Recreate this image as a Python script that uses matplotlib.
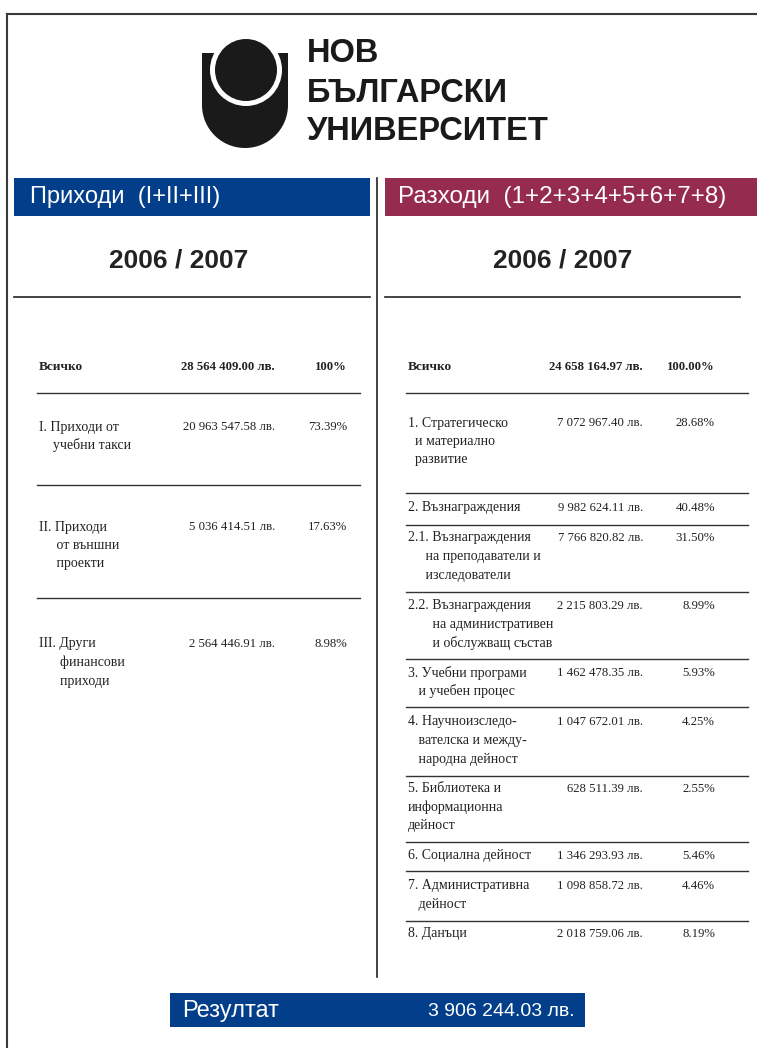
import matplotlib
matplotlib.use("Agg")
import matplotlib.pyplot as plt
from matplotlib.patches import Rectangle, Circle, Polygon
import numpy as np

# ---- data ----
income_title = "Приходи  (I+II+III)"
expense_title = "Разходи  (1+2+3+4+5+6+7+8)"
period = "2006 / 2007"

income_labels = [
    "I. Приходи от\n    учебни такси",
    "II. Приходи\n     от външни\n     проекти",
    "III. Други\n      финансови\n      приходи",
]
income_amounts = [20963547.58, 5036414.51, 2564446.91]
income_shares = [73.39, 17.63, 8.98]
income_total = 28564409.00
income_total_share = "100%"

expense_labels = [
    "1. Стратегическо\n  и материално\n  развитие",
    "2. Възнаграждения",
    "2.1. Възнаграждения\n     на преподаватели и\n     изследователи",
    "2.2. Възнаграждения\n       на административен\n       и обслужващ състав",
    "3. Учебни програми\n   и учебен процес",
    "4. Научноизследо-\n   вателска и между-\n   народна дейност",
    "5. Библиотека и\nинформационна\nдейност",
    "6. Социална дейност",
    "7. Административна\n   дейност",
    "8. Данъци",
]
expense_amounts = [7072967.40, 9982624.11, 7766820.82, 2215803.29, 1462478.35,
                   1047672.01, 628511.39, 1346293.93, 1098858.72, 2018759.06]
expense_shares = [28.68, 40.48, 31.50, 8.99, 5.93, 4.25, 2.55, 5.46, 4.46, 8.19]
expense_total = 24658164.97
expense_total_share = "100.00%"

result_label = "Резултат"
result_value = 3906244.03

# ---- layout (pixels, y down) ----
left_rules = [393, 485, 598]
left_rows = [427, 527, 644]
right_rules = [393, 493, 525, 592, 659, 707, 776, 842, 871, 921]
right_rows = [423, 508, 538, 606, 673, 722, 789, 856, 886, 934]

blue = '#023E8A'
maroon = '#962B50'
ink = '#222222'
serif = 'Liberation Serif'
sans = 'Liberation Sans'


def money(v):
    return f"{v:,.2f}".replace(",", " ") + " лв."


fig = plt.figure(figsize=(7.57, 10.48), dpi=100)
ax = fig.add_axes([0, 0, 1, 1])
ax.set_xlim(0, 757)
ax.set_ylim(1048, 0)
ax.axis('off')

# page frame
ax.plot([7, 757], [14, 14], color='#3a3a3a', lw=1.5)
ax.plot([7, 7], [14, 1048], color='#3a3a3a', lw=1.5)
ax.plot([377, 377], [178, 977], color=ink, lw=1.2)

# ---- logo ----
t = np.linspace(np.pi, 2 * np.pi, 60)
u_pts = [(202, 53), (202, 105)] + [(245 + 43 * np.cos(a), 105 - 43 * np.sin(a)) for a in t] + [(288, 105), (288, 53)]
ax.add_patch(Polygon(u_pts, closed=True, facecolor='#1a1a1a', edgecolor='none'))
ax.add_patch(Circle((246, 70), 36, facecolor='white', edgecolor='none'))
ax.add_patch(Circle((246, 70), 31, facecolor='#1a1a1a', edgecolor='none'))
for i, word in enumerate(["НОВ", "БЪЛГАРСКИ", "УНИВЕРСИТЕТ"]):
    ax.text(307, 54 + i * 39, word, family=sans, fontweight='bold', fontsize=23.5,
            color='#1a1a1a', ha='left', va='center')

# ---- headers ----
ax.add_patch(Rectangle((14, 178), 356, 38, facecolor=blue, edgecolor='none'))
ax.add_patch(Rectangle((385, 178), 372, 38, facecolor=maroon, edgecolor='none'))
ax.text(30, 197, income_title, family=sans, fontsize=17, color='white', ha='left', va='center')
ax.text(398, 197, expense_title, family=sans, fontsize=17.5, color='white', ha='left', va='center')
ax.text(179, 261, period, family=sans, fontsize=19, fontweight='bold', color=ink, ha='center', va='center')
ax.text(563, 261, period, family=sans, fontsize=19, fontweight='bold', color=ink, ha='center', va='center')
ax.plot([14, 370], [297, 297], color=ink, lw=1.2)
ax.plot([385, 740], [297, 297], color=ink, lw=1.2)


def draw_table(x0, xval, xpct, xend, total, total_share, labels, amounts, shares, rules, rows):
    ax.text(x0, 367, "Всичко", family=serif, fontsize=9.5, fontweight='bold', color=ink, ha='left', va='center')
    ax.text(xval, 367, money(total), family=serif, fontsize=9.2, fontweight='bold', color=ink, ha='right', va='center')
    ax.text(xpct, 367, total_share, family=serif, fontsize=9.2, fontweight='bold', color=ink, ha='right', va='center')
    for yr in rules:
        ax.plot([x0 - 2, xend], [yr, yr], color='#333333', lw=1.0)
    for lab, amt, sh, yr in zip(labels, amounts, shares, rows):
        for j, line in enumerate(lab.split("\n")):
            ax.text(x0, yr + j * 18.5, line, family=serif, fontsize=10, color=ink, ha='left', va='center')
        ax.text(xval, yr, money(amt), family=serif, fontsize=9.2, color=ink, ha='right', va='center')
        ax.text(xpct, yr, f"{sh:.2f}%", family=serif, fontsize=9.2, color=ink, ha='right', va='center')


draw_table(39, 275, 347, 360, income_total, income_total_share,
           income_labels, income_amounts, income_shares, left_rules, left_rows)
draw_table(408, 643, 715, 748, expense_total, expense_total_share,
           expense_labels, expense_amounts, expense_shares, right_rules, right_rows)

# ---- result bar ----
ax.add_patch(Rectangle((170, 993), 415, 34, facecolor=blue, edgecolor='none'))
ax.text(182, 1011, result_label, family=sans, fontsize=17, color='white', ha='left', va='center')
ax.text(575, 1011, money(result_value), family=sans, fontsize=14, color='white', ha='right', va='center')

fig.savefig('out.png', dpi=100, facecolor='white')
